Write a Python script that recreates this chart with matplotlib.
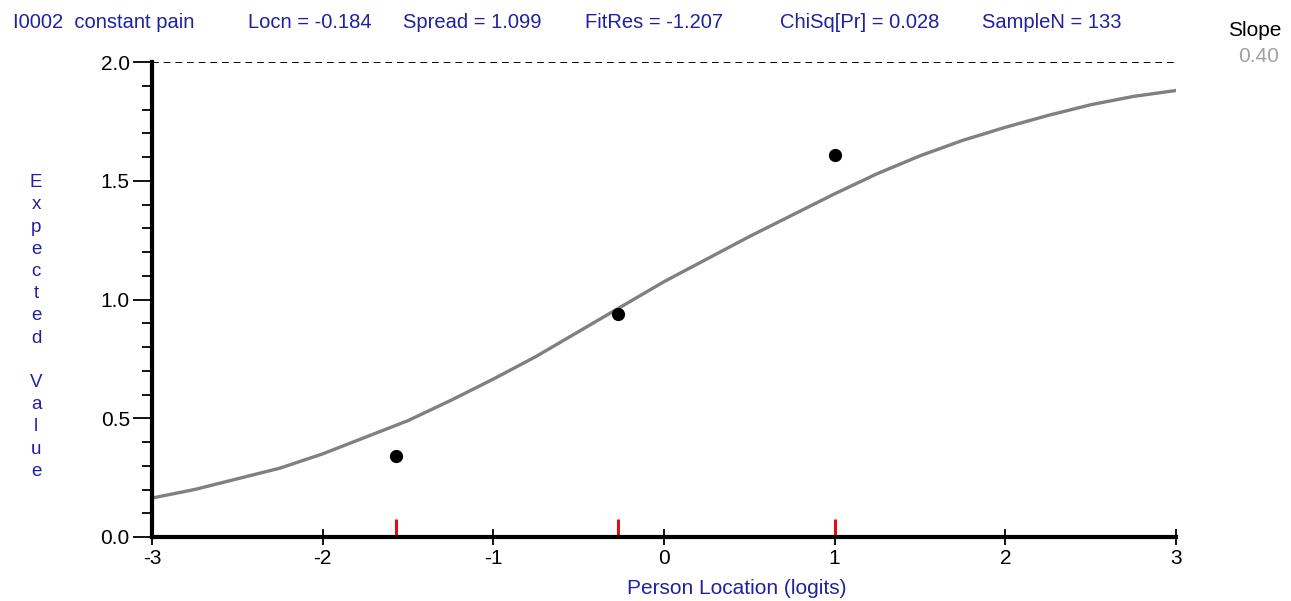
import numpy as np
import matplotlib.pyplot as plt
from matplotlib.ticker import MultipleLocator

# expected value curve
curve_x = [-3.0, -2.75, -2.5, -2.25, -2.0, -1.75, -1.5, -1.25, -1.0, -0.75,
           -0.5, -0.25, 0.0, 0.25, 0.5, 0.75, 1.0, 1.25, 1.5, 1.75,
           2.0, 2.25, 2.5, 2.75, 3.0]
curve_y = [0.164, 0.20, 0.245, 0.29, 0.35, 0.42, 0.49, 0.575, 0.665, 0.76,
           0.865, 0.97, 1.075, 1.17, 1.265, 1.355, 1.445, 1.53, 1.605, 1.67,
           1.725, 1.775, 1.82, 1.855, 1.88]

# observed class interval means
class_x = [-1.57, -0.27, 1.0]
class_y = [0.34, 0.94, 1.61]

# header items and their centre (pixels)
header = [("I0002  constant pain", 104), ("Locn = -0.184", 310),
          ("Spread = 1.099", 472), ("FitRes = -1.207", 654),
          ("ChiSq[Pr] = 0.028", 860), ("SampleN = 133", 1052)]
slope_value = "0.40"

W, H = 1291, 601
blue = "#2020a0"
plt.rcParams['font.family'] = ['Liberation Sans', 'DejaVu Sans']

fig = plt.figure(figsize=(W / 100, H / 100), dpi=100)
ax = fig.add_axes([152 / W, 1 - 537 / H, (1176 - 152) / W, (537 - 62) / H])

ax.plot(curve_x, curve_y, color="#808080", lw=2.4, zorder=3)
ax.plot(class_x, class_y, "o", color="black", ms=8.5, zorder=4)
ax.axhline(2.0, color="black", lw=1.4, ls=(0, (3.5, 2.5)), zorder=2)
for cx in class_x:
    ax.plot([cx, cx], [0, 0.075], color="#e01010", lw=2.2, zorder=5,
            solid_capstyle="butt")

ax.set_xlim(-3, 3)
ax.set_ylim(0, 2.0)
for s in ["top", "right"]:
    ax.spines[s].set_visible(False)
ax.spines["left"].set_linewidth(3)
ax.spines["bottom"].set_linewidth(3)
ax.spines["left"].set_zorder(6)
ax.spines["bottom"].set_zorder(6)

ax.yaxis.set_major_locator(MultipleLocator(0.5))
ax.yaxis.set_minor_locator(MultipleLocator(0.1))
ax.xaxis.set_major_locator(MultipleLocator(1))
ax.tick_params(axis="y", which="major", length=14, width=1.3, labelsize=15,
               direction="out", pad=2)
ax.tick_params(axis="y", which="minor", length=7, width=1.3, direction="out")
ax.tick_params(axis="x", which="major", length=12, width=1.3, labelsize=15,
               direction="inout", pad=3)
ax.set_yticklabels([f"{v:.1f}" for v in ax.get_yticks()])
ax.set_xticklabels([f"{v:g}" for v in ax.get_xticks()])

for text, px in header:
    fig.text(px / W, 1 - 22 / H, text, color=blue, fontsize=14.5,
             ha="center", va="center")
fig.text(1255 / W, 1 - 30 / H, "Slope", color="black", fontsize=15,
         ha="center", va="center")
fig.text(1259 / W, 1 - 57 / H, slope_value, color="#a0a0a0", fontsize=15,
         ha="center", va="center")

ylab = "\n".join(list("Expected") + [""] + list("Value"))
fig.text(36 / W, 1 - 327 / H, ylab, color=blue, fontsize=13.5, ha="center",
         va="center", linespacing=1.4)
fig.text(737 / W, 1 - 589 / H, "Person Location (logits)", color=blue,
         fontsize=15, ha="center", va="center")

fig.savefig("out.png", dpi=100)
